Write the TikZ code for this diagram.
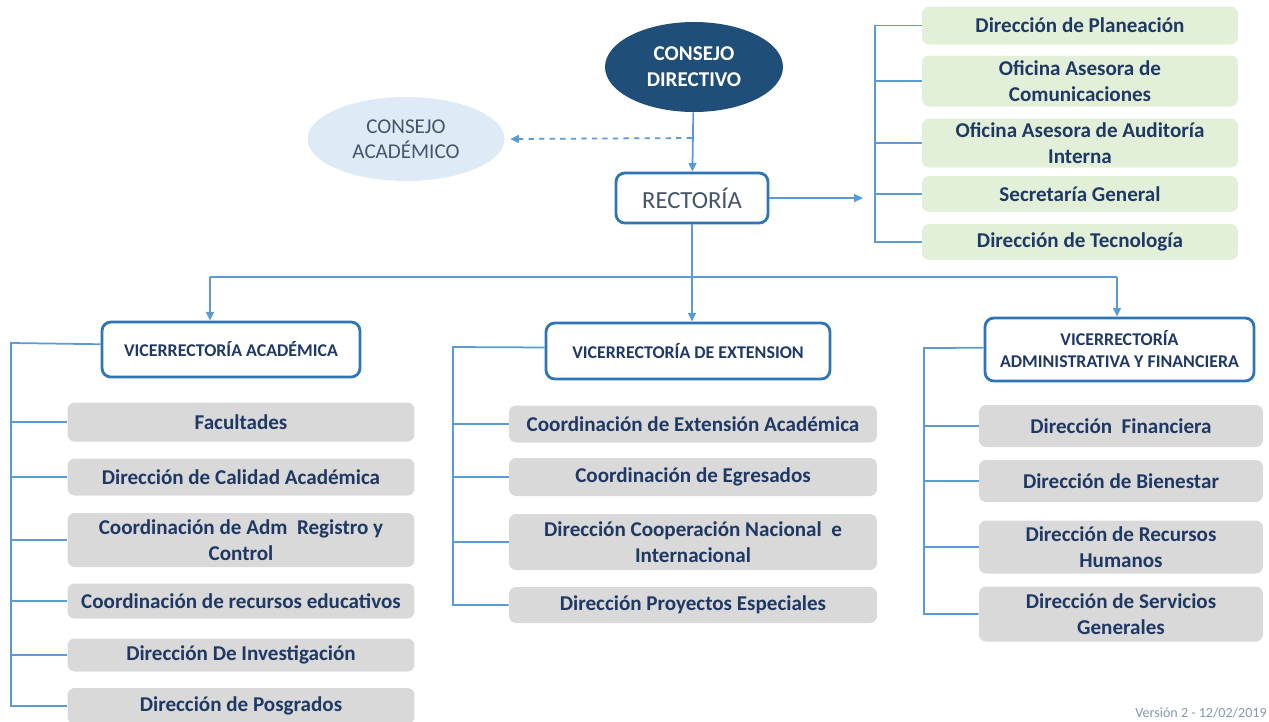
\documentclass[tikz,border=0pt]{standalone}
\usepackage{fontspec}
\setmainfont{Carlito}
\usetikzlibrary{arrows.meta,shapes.geometric,positioning}

\definecolor{lineblue}{HTML}{5B9BD5}
\definecolor{frameblue}{HTML}{2E75B6}
\definecolor{darkblue}{HTML}{1F4E79}
\definecolor{paleblue}{HTML}{DEEBF7}
\definecolor{boxgreen}{HTML}{E2F0D9}
\definecolor{boxgray}{HTML}{D9D9D9}
\definecolor{navy}{HTML}{1F3864}
\definecolor{slate}{HTML}{44546A}
\definecolor{note}{HTML}{8496B0}

\tikzset{
  conn/.style={draw=lineblue, line width=1pt},
  arr/.style={conn, -{Triangle[length=5pt,width=4.5pt]}},
  council/.style={ellipse, inner sep=0pt, align=center},
  vicebox/.style={draw=frameblue, line width=1.6pt, fill=white, rounded corners=5pt,
    inner sep=0pt, align=center, font=\bfseries\fontsize{10.2}{12.5}\selectfont, text=navy},
  unitbox/.style={rounded corners=4pt, inner sep=0pt, align=center,
    font=\bfseries\fontsize{12}{14.7}\selectfont, text=navy},
  staffbox/.style={unitbox, fill=boxgreen, minimum width=6.32cm},
  acadbox/.style={unitbox, fill=boxgray, minimum width=6.94cm},
  extbox/.style={unitbox, fill=boxgray, minimum width=7.36cm},
  adminbox/.style={unitbox, fill=boxgray, minimum width=5.68cm},
}

\begin{document}
\begin{tikzpicture}[x=0.02cm, y=-0.02cm]
  \useasboundingbox (0,0) rectangle (1269,721);

  % councils and rectoria
  \node[council, fill=darkblue, text=white, minimum width=3.56cm, minimum height=1.8cm,
    font=\bfseries\fontsize{12}{14.7}\selectfont] (cd) at (694,67) {CONSEJO\\DIRECTIVO};
  \node[council, fill=paleblue, text=slate, minimum width=3.94cm, minimum height=1.68cm,
    font=\fontsize{12}{14.4}\selectfont] (ca) at (406,139) {CONSEJO\\ACADÉMICO};
  \node[vicebox, minimum width=3.04cm, minimum height=1cm, text=slate,
    font=\fontsize{14}{16}\selectfont] (rect) at (692,198) {RECTORÍA};

  \coordinate (split) at (692,138);
  \draw[arr] (cd) -- (rect);
  \draw[arr, dashed] (split) -- ([xshift=3pt]ca.east);

  % staff offices
  \node[staffbox, minimum height=0.76cm] (dp) at (1080,25.5) {Dirección de Planeación};
  \node[staffbox, minimum height=1.02cm] (oc) at (1080,81) {Oficina Asesora de\\Comunicaciones};
  \node[staffbox, minimum height=0.98cm] (oa) at (1080,143) {Oficina Asesora de Auditoría\\Interna};
  \node[staffbox, minimum height=0.72cm] (sg) at (1080,194) {Secretaría General};
  \node[staffbox, minimum height=0.72cm] (dt) at (1080,242) {Dirección de Tecnología};

  \coordinate (sbus) at (875,198);
  \coordinate (stip) at (863,198);
  \draw[arr] (rect.east) -- (stip);
  \draw[conn] (dp.west) -| (sbus |- dt.west) -- (dt.west);
  \foreach \n in {oc,oa,sg}
    \draw[conn] (sbus |- \n.west) -- (\n.west);

  % vice-rectorates
  \node[vicebox, minimum width=5.16cm, minimum height=1.1cm] (va) at (231,349.5) {VICERRECTORÍA ACADÉMICA};
  \node[vicebox, minimum width=5.68cm, minimum height=1.12cm] (ve) at (688,351) {VICERRECTORÍA DE EXTENSION};
  \node[vicebox, minimum width=5.38cm, minimum height=1.26cm] (vf) at (1119.5,349.5) {VICERRECTORÍA\\ADMINISTRATIVA Y FINANCIERA};

  \coordinate (hub) at (692,277);
  \coordinate (ja) at (210,277);
  \coordinate (jf) at (1117,277);
  \draw[conn] (rect) -- (hub);
  \draw[conn] (ja) -- (jf);
  \draw[arr] (ja) -- (ja |- va.north);
  \draw[arr] (hub) -- (hub |- ve.north);
  \draw[arr] (jf) -- (jf |- vf.north);

  % academic units
  \node[acadbox, minimum height=0.78cm] (fa) at (241,422) {Facultades};
  \node[acadbox, minimum height=0.74cm] (cq) at (241,477) {Dirección de Calidad Académica};
  \node[acadbox, minimum height=1.08cm] (cr) at (241,540) {Coordinación de Adm\ \ Registro y\\Control};
  \node[acadbox, minimum height=0.70cm] (re) at (241,601) {Coordinación de recursos educativos};
  \node[acadbox, minimum height=0.66cm] (di) at (241,655) {Dirección De Investigación};
  \node[acadbox, minimum height=0.72cm] (pg) at (241,706) {Dirección de Posgrados};

  \coordinate (abus) at (11,343);
  \draw[conn] ([yshift=3pt]va.west) -- (abus) |- (pg.west);
  \foreach \n in {fa,cq,cr,re,di}
    \draw[conn] (abus |- \n.west) -- (\n.west);

  % extension units
  \node[extbox, minimum height=0.74cm] (ce) at (693,424) {Coordinación de Extensión Académica};
  \node[extbox, minimum height=0.76cm] (eg) at (693,477) {Coordinación de Egresados};
  \node[extbox, minimum height=1.12cm] (cn) at (693,542) {Dirección Cooperación Nacional\ \ e\\Internacional};
  \node[extbox, minimum height=0.72cm] (pe) at (693,605) {Dirección Proyectos Especiales};

  \coordinate (ebus) at (453,347);
  \draw[conn] ([yshift=2pt]ve.west) -- (ebus) |- (pe.west);
  \foreach \n in {ce,eg,cn}
    \draw[conn] (ebus |- \n.west) -- (\n.west);

  % administrative units
  \node[adminbox, minimum height=0.84cm] (df) at (1121,426) {Dirección\ \ Financiera};
  \node[adminbox, minimum height=0.84cm] (db) at (1121,481) {Dirección de Bienestar};
  \node[adminbox, minimum height=1.06cm] (rh) at (1121,547) {Dirección de Recursos\\Humanos};
  \node[adminbox, minimum height=1.10cm] (sv) at (1121,614) {Dirección de Servicios\\Generales};

  \coordinate (fbus) at (924,348);
  \draw[conn] ([yshift=1pt]vf.west) -- (fbus) |- (sv.west);
  \foreach \n in {df,db,rh}
    \draw[conn] (fbus |- \n.west) -- (\n.west);

  \node[anchor=east, inner sep=0pt, text=note, font=\fontsize{8}{9}\selectfont] (ver) at (1267,713) {Versión 2 - 12/02/2019};
\end{tikzpicture}
\end{document}
